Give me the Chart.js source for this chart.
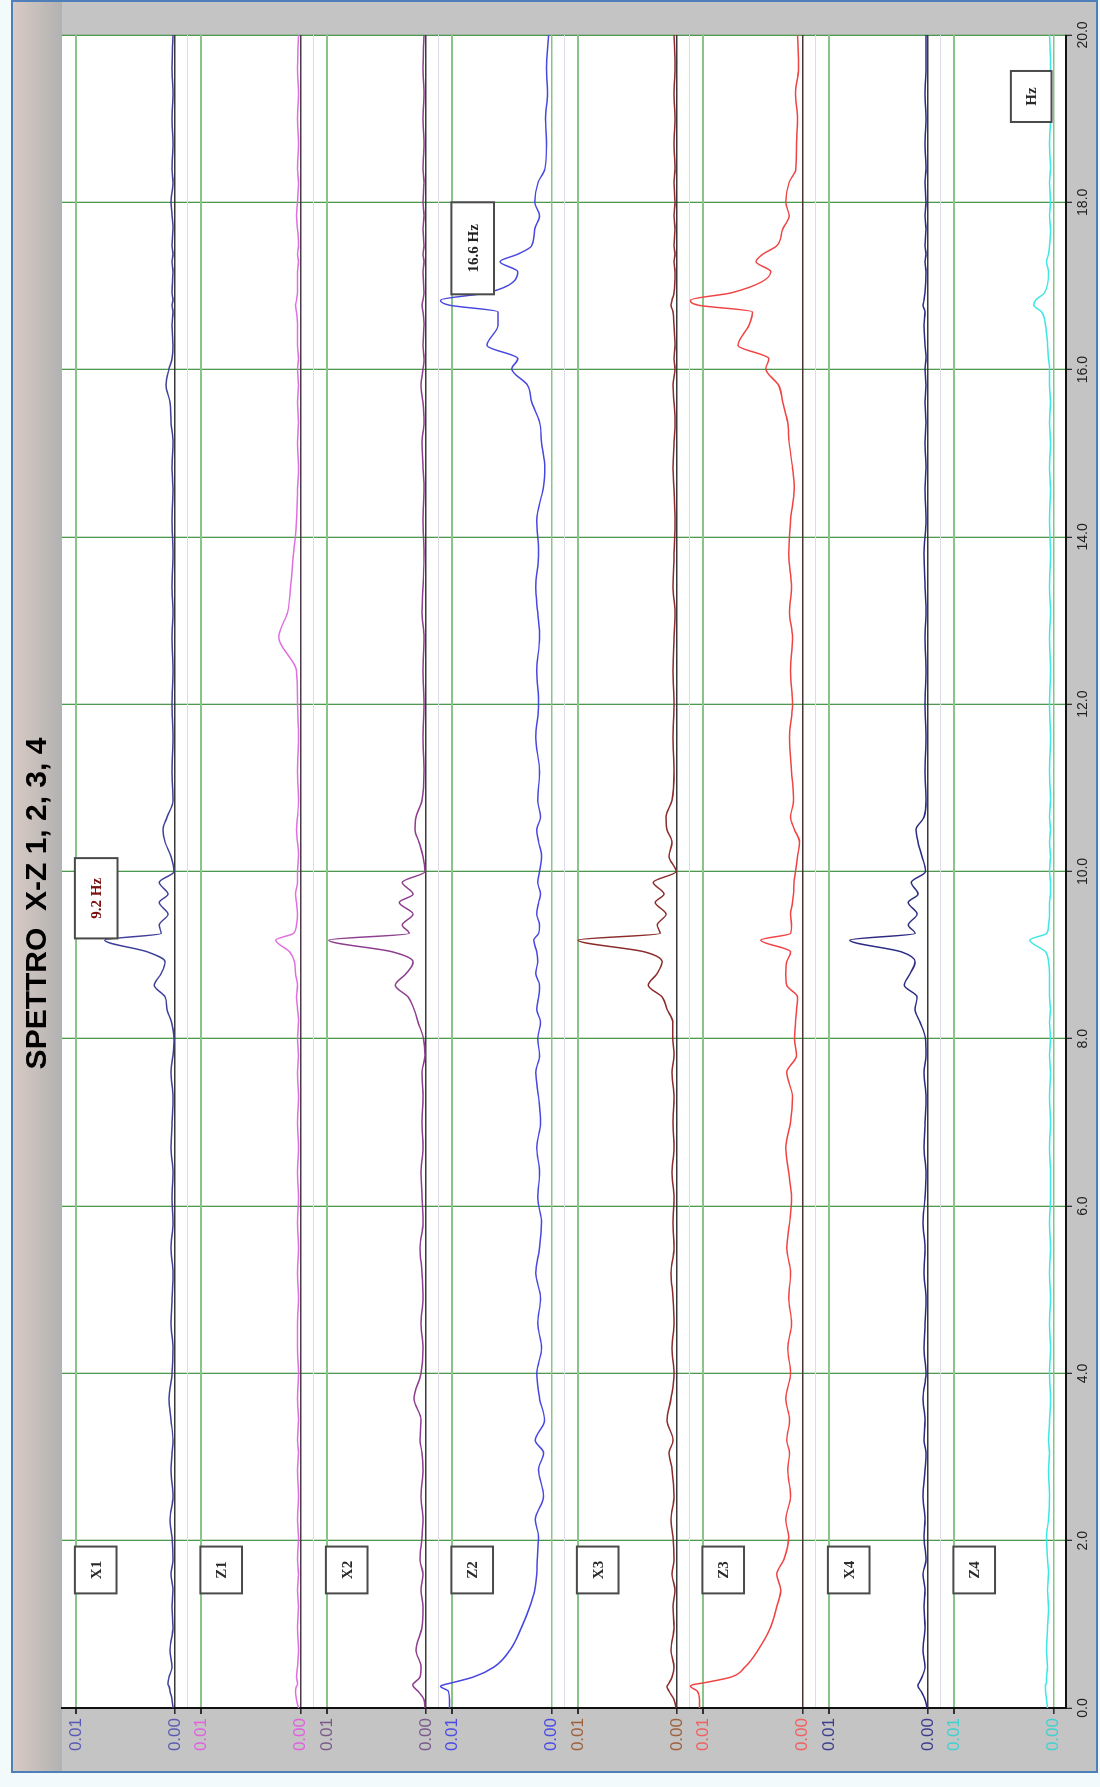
<!DOCTYPE html>
<html>
<head>
<meta charset="utf-8">
<title>Spettro X-Z</title>
<script src="https://cdn.jsdelivr.net/npm/chart.js@4.4.1/dist/chart.umd.min.js"></script>
<style>
  html, body { margin: 0; padding: 0; background: #ffffff; }
  #wrap { position: relative; width: 1100px; height: 1787px; overflow: hidden; }
  /* il grafico originale e' ruotato di 90 gradi in senso antiorario */
  #turn { position: absolute; left: 0; top: 1787px; width: 1787px; height: 1100px;
          transform: rotate(-90deg); transform-origin: 0 0; }
  #spettro { display: block; width: 1787px; height: 1100px; }
</style>
</head>
<body>
<div id="wrap"><div id="turn"><canvas id="spettro" width="1787" height="1100"></canvas></div></div>
<script>
/* ================= DATA ================= */
// frequenze (Hz)
const hz = [
  0.0, 0.1, 0.2, 0.26, 0.28, 0.3, 0.37, 0.49, 0.69, 0.97,
  1.21, 1.41, 1.6, 1.77, 2.05, 2.25, 2.53, 2.85, 3.05, 3.2,
  3.44, 3.7, 4.0, 4.3, 4.6, 4.9, 5.2, 5.5, 5.8, 6.1,
  6.4, 6.7, 7.0, 7.3, 7.6, 7.8, 8.0, 8.2, 8.35, 8.5,
  8.64, 8.78, 8.92, 9.04, 9.18, 9.26, 9.36, 9.49, 9.63, 9.73,
  9.87, 10.0, 10.18, 10.35, 10.5, 10.65, 10.85, 11.2, 11.6, 12.0,
  12.4, 12.8, 13.1, 13.4, 13.8, 14.2, 14.58, 14.82, 15.13, 15.37,
  15.61, 15.81, 16.01, 16.13, 16.29, 16.53, 16.69, 16.77, 16.83, 16.92,
  17.17, 17.29, 17.38, 17.48, 17.68, 17.84, 18.0, 18.24, 18.4, 18.7,
  19.0, 19.3, 19.6, 20.0
];

// ampiezze in millesimi (0.001)
const x1 = [
  0.2, 0.3, 0.5, 0.6, 0.7, 0.7, 0.6, 0.3, 0.5, 0.2,
  0.3, 0.2, 0.4, 0.2, 0.3, 0.5, 0.2, 0.4, 0.3, 0.2,
  0.4, 0.6, 0.3, 0.2, 0.4, 0.3, 0.2, 0.4, 0.2, 0.3,
  0.2, 0.4, 0.3, 0.2, 0.4, 0.2, 0.1, 0.35, 0.8, 1.0,
  2.1, 1.4, 1.0, 2.8, 7.1, 1.4, 1.6, 0.7, 1.6, 0.7,
  1.6, 0.1, 0.4, 1.0, 1.2, 0.8, 0.2, 0.3, 0.2, 0.3,
  0.2, 0.3, 0.2, 0.3, 0.2, 0.3, 0.2, 0.3, 0.2, 0.4,
  0.5, 0.9, 0.6, 0.3, 0.2, 0.3, 0.2, 0.3, 0.2, 0.3,
  0.2, 0.3, 0.2, 0.3, 0.2, 0.3, 0.4, 0.2, 0.3, 0.2,
  0.3, 0.2, 0.3, 0.2
];
const z1 = [
  0.2, 0.4, 0.5, 0.4, 0.3, 0.3, 0.4, 0.3, 0.2, 0.3,
  0.2, 0.3, 0.2, 0.3, 0.2, 0.3, 0.2, 0.3, 0.2, 0.3,
  0.2, 0.3, 0.2, 0.3, 0.3, 0.2, 0.3, 0.2, 0.3, 0.2,
  0.3, 0.2, 0.3, 0.2, 0.3, 0.2, 0.3, 0.2, 0.3, 0.4,
  0.3, 0.5, 0.6, 1.1, 2.5, 0.7, 0.4, 0.3, 0.4, 0.5,
  0.3, 0.3, 0.2, 0.3, 0.4, 0.3, 0.2, 0.3, 0.2, 0.3,
  0.4, 2.2, 1.3, 1.0, 0.7, 0.4, 0.3, 0.2, 0.3, 0.2,
  0.3, 0.2, 0.3, 0.2, 0.3, 0.3, 0.4, 0.5, 0.4, 0.3,
  0.3, 0.2, 0.3, 0.2, 0.3, 0.4, 0.3, 0.2, 0.3, 0.2,
  0.3, 0.2, 0.3, 0.2
];
const x2 = [
  0.1, 0.2, 0.8, 1.3, 1.35, 1.2, 0.6, 0.5, 1.0, 0.4,
  0.3, 0.5, 0.3, 0.6, 0.4, 0.3, 0.5, 0.3, 0.4, 0.6,
  0.5, 1.2, 0.5, 0.3, 0.5, 0.3, 0.4, 0.6, 0.3, 0.4,
  0.5, 0.3, 0.4, 0.3, 0.4, 0.1, 0.25, 0.8, 1.2, 1.8,
  3.1, 2.0, 1.3, 3.4, 9.8, 1.7, 2.4, 1.3, 2.7, 1.3,
  2.4, 0.1, 0.3, 0.7, 1.1, 1.0, 0.4, 0.2, 0.3, 0.2,
  0.3, 0.2, 0.4, 0.3, 0.2, 0.3, 0.2, 0.3, 0.4, 0.2,
  0.3, 0.5, 0.3, 0.2, 0.3, 0.2, 0.3, 0.4, 0.3, 0.2,
  0.3, 0.2, 0.3, 0.2, 0.3, 0.2, 0.3, 0.2, 0.3, 0.2,
  0.3, 0.2, 0.3, 0.2
];
const z2 = [
  10.3, 10.3, 10.4, 11.2, 10.8, 10.1, 7.9, 5.8, 4.2, 3.0,
  2.2, 1.7, 1.5, 1.45, 1.3, 1.65, 0.8, 1.3, 0.8, 1.65,
  0.7, 1.2, 1.5, 1.0, 1.4, 1.1, 1.6, 1.2, 1.0, 1.4,
  1.2, 1.5, 1.1, 1.3, 1.6, 1.2, 1.4, 1.1, 1.5, 1.3,
  1.2, 1.6, 1.4, 1.5, 1.8, 1.3, 1.2, 1.5, 1.3, 1.1,
  1.4, 1.2, 1.0, 1.3, 1.5, 1.1, 1.4, 1.2, 1.6, 1.3,
  1.5, 1.2, 1.4, 1.6, 1.3, 1.5, 0.84, 0.67, 1.0, 1.2,
  2.0, 2.4, 4.0, 3.4, 6.5, 5.4, 5.4, 10.3, 11.2, 6.4,
  3.4, 5.2, 3.4, 2.0, 1.7, 1.2, 1.7, 1.35, 0.67, 0.5,
  0.6, 0.4, 0.5, 0.3
];
const x3 = [
  0.1, 0.3, 0.8, 1.0, 0.9, 0.8, 0.5, 0.3, 0.6, 0.3,
  0.4, 0.2, 0.5, 0.3, 0.4, 0.6, 0.3, 0.5, 0.8, 0.4,
  1.0, 0.6, 0.3, 0.5, 0.3, 0.4, 0.6, 0.3, 0.4, 0.3,
  0.5, 0.3, 0.4, 0.3, 0.5, 0.3, 0.43, 0.43, 1.0, 1.5,
  2.9, 2.0, 1.5, 3.3, 10.0, 1.7, 2.0, 1.1, 2.2, 1.3,
  2.4, 0.1, 0.8, 0.5, 1.0, 1.1, 0.5, 0.3, 0.4, 0.3,
  0.4, 0.3, 0.2, 0.4, 0.3, 0.2, 0.3, 0.4, 0.3, 0.2,
  0.3, 0.4, 0.2, 0.3, 0.2, 0.3, 0.4, 0.6, 0.5, 0.3,
  0.2, 0.3, 0.2, 0.3, 0.2, 0.3, 0.2, 0.3, 0.2, 0.3,
  0.2, 0.3, 0.2, 0.3
];
const z3 = [
  10.4, 10.4, 10.6, 11.3, 11.0, 10.0, 7.2, 5.8, 4.5, 3.2,
  2.6, 2.2, 2.6, 1.9, 1.4, 1.7, 1.2, 1.5, 1.3, 1.6,
  1.3, 1.7, 1.2, 1.5, 1.1, 1.4, 1.2, 1.6, 1.3, 1.1,
  1.4, 1.7, 1.2, 1.0, 1.6, 0.6, 0.8, 0.7, 0.6, 0.5,
  1.6, 1.7, 1.6, 1.2, 4.2, 1.2, 1.1, 1.2, 1.0, 0.9,
  0.85, 0.7, 0.5, 0.3, 0.8, 1.2, 0.9, 1.1, 1.3, 1.0,
  1.2, 1.0, 1.3, 1.1, 1.4, 1.2, 0.84, 1.0, 1.35, 1.5,
  2.0, 2.4, 3.7, 3.4, 6.5, 5.4, 5.05, 10.5, 11.3, 7.1,
  3.2, 4.7, 4.0, 2.6, 2.0, 1.35, 1.7, 1.35, 0.67, 0.6,
  0.5, 0.7, 0.4, 0.5
];
const x4 = [
  0.1, 0.3, 0.7, 1.0, 1.0, 0.9, 0.6, 0.3, 0.5, 0.3,
  0.4, 0.3, 0.5, 0.2, 0.4, 0.3, 0.5, 0.3, 0.2, 0.4,
  0.3, 0.5, 0.2, 0.4, 0.3, 0.2, 0.4, 0.3, 0.5, 0.3,
  0.2, 0.4, 0.3, 0.2, 0.4, 0.2, 0.25, 0.8, 1.3, 1.1,
  2.4, 1.8, 1.3, 2.7, 7.9, 1.3, 2.0, 1.1, 2.0, 1.0,
  1.7, 0.25, 0.6, 1.0, 1.2, 0.4, 0.2, 0.3, 0.2, 0.3,
  0.2, 0.3, 0.2, 0.3, 0.4, 0.2, 0.3, 0.2, 0.3, 0.2,
  0.3, 0.2, 0.3, 0.2, 0.3, 0.4, 0.3, 0.5, 0.4, 0.3,
  0.2, 0.3, 0.2, 0.3, 0.2, 0.3, 0.2, 0.3, 0.2, 0.3,
  0.2, 0.3, 0.2, 0.2
];
const z4 = [
  0.6, 0.7, 0.8, 0.8, 0.8, 0.7, 0.7, 0.6, 0.7, 0.6,
  0.5, 0.6, 0.5, 0.6, 0.7, 0.5, 0.4, 0.5, 0.4, 0.5,
  0.4, 0.3, 0.4, 0.3, 0.4, 0.3, 0.4, 0.3, 0.4, 0.3,
  0.3, 0.4, 0.3, 0.4, 0.3, 0.4, 0.3, 0.4, 0.3, 0.4,
  0.4, 0.4, 0.5, 0.8, 2.4, 0.7, 0.5, 0.4, 0.4, 0.3,
  0.3, 0.4, 0.3, 0.4, 0.3, 0.4, 0.3, 0.4, 0.3, 0.4,
  0.3, 0.4, 0.3, 0.4, 0.3, 0.4, 0.3, 0.4, 0.3, 0.4,
  0.3, 0.4, 0.4, 0.5, 0.6, 0.8, 1.2, 2.0, 1.8, 0.9,
  0.5, 0.7, 0.5, 0.4, 0.3, 0.4, 0.3, 0.4, 0.3, 0.4,
  0.3, 0.4, 0.3, 0.4
];

const panelNames = ["X1", "Z1", "X2", "Z2", "X3", "Z3", "X4", "Z4"];
const series = [x1, z1, x2, z2, x3, z3, x4, z4];
const hzTicks = [0, 2, 4, 6, 8, 10, 12, 14, 16, 18, 20];
const panelTicks = [0, 10]; // 0.00 e 0.01

const peakTags = [
  { text: "9.2 Hz", panel: 0, from: 9.2, to: 10.16, color: "#7a1010" },
  { text: "16.6 Hz", panel: 3, from: 16.9, to: 18.0, color: "#222222" }
];

/* ================= STYLE ================= */
const traceColors = ["#40409a", "#e070e0", "#8e3e8e", "#4848e0", "#8c2c2c", "#f04444", "#2c2c84", "#3ee6e6"];
const labelColors = ["#5a5ab4", "#e060e0", "#7a5a8a", "#4a4ae6", "#a0603c", "#f06060", "#3c3c90", "#40d0d0"];
const zeroColors = ["#3a3a3a", "#4a3a4a", "#3a3a3a", "#88c488", "#3a3a3a", "#4a3434", "#3a3a3a", "#88c488"];
const PANEL_MIN = -1.26;
const PANEL_MAX = 11.4;

/* ================= PLUGINS ================= */
const frame = {
  id: "frame",
  beforeDraw(chart) {
    const { ctx, chartArea: a, width, height } = chart;
    ctx.save();
    ctx.fillStyle = "#f3fafc";
    ctx.fillRect(0, 0, width, height);
    ctx.fillStyle = "#c4c4c4";
    ctx.fillRect(15, 12, width - 15, 1085);
    const g = ctx.createLinearGradient(0, 12, 0, a.top);
    g.addColorStop(0, "#d9cbc4");
    g.addColorStop(1, "#b2b2b2");
    ctx.fillStyle = g;
    ctx.fillRect(15, 12, width - 15, a.top - 12);
    ctx.strokeStyle = "#4f7fb8";
    ctx.lineWidth = 2;
    ctx.strokeRect(15, 12, width - 16, 1085);
    ctx.fillStyle = "#ffffff";
    ctx.fillRect(a.left, a.top, a.right - a.left, a.bottom - a.top);
    ctx.restore();
  }
};

function drawTag(chart, panel, from, to, top, bottom, text, color) {
  const { ctx } = chart;
  const xs = chart.scales.x;
  const ys = chart.scales["y" + panel];
  const x0 = xs.getPixelForValue(from);
  const x1p = xs.getPixelForValue(to);
  const y0 = ys.getPixelForValue(top);
  const y1p = ys.getPixelForValue(bottom);
  ctx.fillStyle = "#ffffff";
  ctx.fillRect(x0, y0, x1p - x0, y1p - y0);
  ctx.strokeStyle = "#4a4a4a";
  ctx.lineWidth = 2;
  ctx.strokeRect(x0, y0, x1p - x0, y1p - y0);
  ctx.fillStyle = color;
  ctx.fillText(text, (x0 + x1p) / 2, (y0 + y1p) / 2 + 1);
}

const tags = {
  id: "tags",
  afterDatasetsDraw(chart) {
    const { ctx } = chart;
    ctx.save();
    ctx.textAlign = "center";
    ctx.textBaseline = "middle";
    ctx.font = 'bold 15px "Liberation Serif", "Times New Roman", serif';
    panelNames.forEach((name, i) => {
      drawTag(chart, i, 1.37, 1.93, 10.1, 5.9, name, "#2a2a2a");
    });
    peakTags.forEach((t) => {
      drawTag(chart, t.panel, t.from, t.to, 10.1, 5.8, t.text, t.color);
    });
    drawTag(chart, 7, 18.96, 19.57, 4.3, 0.2, "Hz", "#2a2a2a");
    ctx.restore();
  }
};

/* ================= SCALES ================= */
function panelScale(i) {
  return {
    type: "linear",
    position: "left",
    stack: "pannelli",
    stackWeight: 1,
    min: PANEL_MIN,
    max: PANEL_MAX,
    afterBuildTicks: (s) => {
      s.ticks = [{ value: PANEL_MIN }].concat(panelTicks.map((v) => ({ value: v })));
    },
    afterFit: (s) => {
      s.width = 64;
    },
    ticks: {
      autoSkip: false,
      padding: 4,
      color: labelColors[i],
      font: { family: '"Liberation Sans", Arial, sans-serif', size: 17 },
      callback: (v) => (v === 0 || v === 10 ? (v / 1000).toFixed(2) : "")
    },
    grid: {
      color: (c) => (c.tick.value === 10 ? "#88c488" : c.tick.value === 0 ? zeroColors[i] : "#dcdce8"),
      lineWidth: (c) => (c.tick.value === 10 ? 2 : c.tick.value === 0 ? 1.6 : 1),
      tickLength: 6,
      tickColor: (c) => (c.tick.value < 0 ? "rgba(0,0,0,0)" : "#303030")
    },
    border: { display: true, color: "#111111", width: 2 }
  };
}

const scales = {
  x: {
    type: "linear",
    position: "bottom",
    min: 0,
    max: 20,
    afterBuildTicks: (s) => {
      s.ticks = hzTicks.map((v) => ({ value: v }));
    },
    afterFit: (s) => {
      s.height = 34;
    },
    ticks: {
      autoSkip: false,
      maxRotation: 0,
      padding: 3,
      color: "#202020",
      font: { family: '"Liberation Sans", Arial, sans-serif', size: 14 },
      callback: (v) => Number(v).toFixed(1)
    },
    grid: { color: "#4f984f", lineWidth: 1.3, tickLength: 6, tickColor: "#303030" },
    border: { display: true, color: "#111111", width: 2 }
  }
};
// l'ultimo asse aggiunto finisce in cima alla pila
for (let i = panelNames.length - 1; i >= 0; i--) {
  scales["y" + i] = panelScale(i);
}

/* ================= CHART ================= */
const datasets = series.map((vals, i) => ({
  label: panelNames[i],
  data: hz.map((f, k) => ({ x: f, y: vals[k] })),
  yAxisID: "y" + i,
  xAxisID: "x",
  borderColor: traceColors[i],
  borderWidth: 1.5,
  pointRadius: 0,
  cubicInterpolationMode: "monotone",
  fill: false
}));

new Chart(document.getElementById("spettro"), {
  type: "line",
  data: { datasets },
  options: {
    responsive: false,
    devicePixelRatio: 1,
    animation: false,
    layout: { padding: { left: 15, right: 35, top: 0, bottom: 0 } },
    scales,
    plugins: {
      legend: { display: false },
      tooltip: { enabled: false },
      title: {
        display: true,
        text: "SPETTRO  X-Z 1, 2, 3, 4",
        color: "#000000",
        font: { family: '"Liberation Sans", Arial, sans-serif', size: 30, weight: "bold", lineHeight: 1.2 },
        padding: { top: 20, bottom: 6 }
      }
    }
  },
  plugins: [frame, tags]
});
</script>
</body>
</html>
